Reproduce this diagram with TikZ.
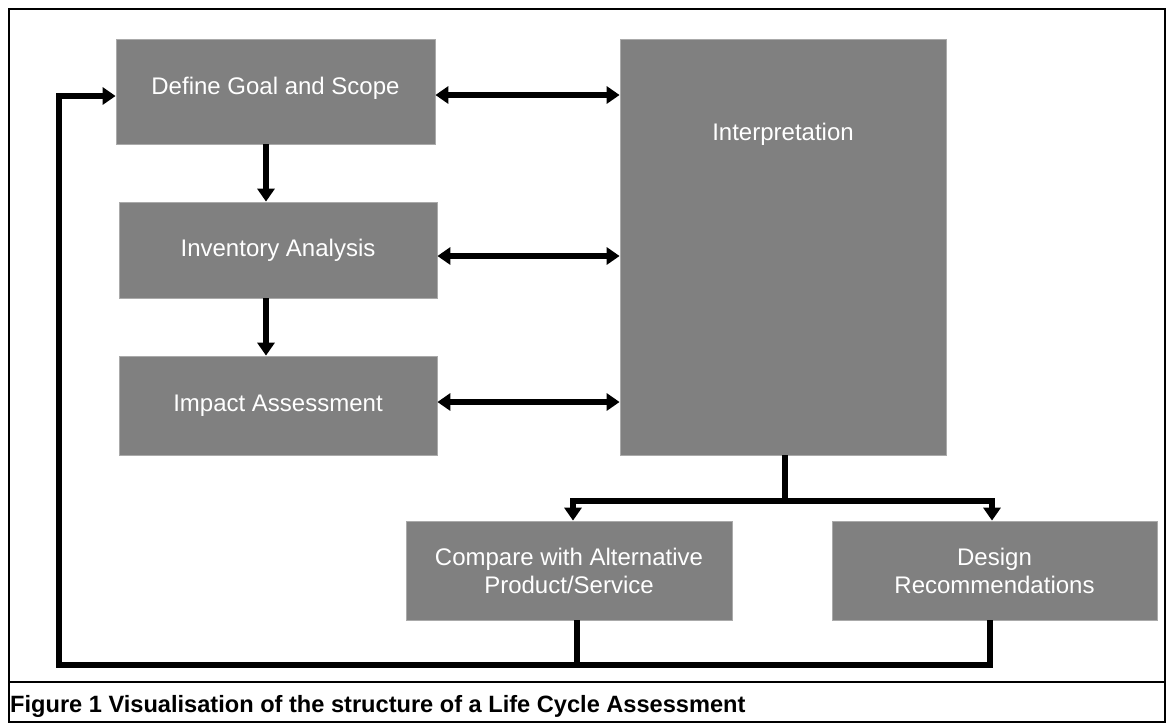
\documentclass[tikz,border=0pt]{standalone}
\usepackage{fontspec}
\setmainfont{Liberation Sans}
\usetikzlibrary{arrows.meta}
\definecolor{boxfill}{RGB}{128,128,128}
\definecolor{boxedge}{RGB}{170,170,170}
\begin{document}
\begin{tikzpicture}[x=1pt,y=-1pt,
  box/.style={draw=boxedge,fill=boxfill,line width=0.8pt,text=white,
    font=\fontsize{24}{28}\selectfont,align=center,inner sep=0pt,anchor=center},
  boxtext/.style={text=white,font=\fontsize{24}{28}\selectfont,inner sep=0pt},
  conn/.style={line width=6pt,-{Triangle[length=13pt,width=17pt]}},
  dconn/.style={line width=6pt,{Triangle[length=13pt,width=17pt]}-{Triangle[length=13pt,width=17pt]}},
  wire/.style={line width=6pt}]
\useasboundingbox (0,0) rectangle (1172,724);
\draw[line width=1.8pt] (9,9) rectangle (1165,722);
\draw[line width=2pt] (9,682) -- (1165,682);

\node[box,minimum width=319pt,minimum height=105pt,text depth=12pt] (goal) at (275.5,91.5) {Define Goal and Scope};
\node[box,minimum width=318pt,minimum height=96pt] (inv) at (278,250) {Inventory Analysis};
\node[box,minimum width=318pt,minimum height=99pt] (imp) at (278,405.5) {Impact Assessment};
\node[box,minimum width=326pt,minimum height=416pt] (interp) at (783,247) {};
\node[boxtext] (interpT) at (783,134) {Interpretation};
\node[box,minimum width=326pt,minimum height=99pt] (cmp) at (569,570.5) {Compare with Alternative\\Product/Service};
\node[box,minimum width=325pt,minimum height=99pt] (des) at (994.5,570.5) {Design\\Recommendations};

\coordinate (bus) at (0,501);
\coordinate (loopL) at (59,665);

% double arrows to interpretation
\draw[dconn] ([yshift=-3.5pt]goal.east) -- ([yshift=-3.5pt]goal.east -| interp.west);
\draw[dconn] ([yshift=-6pt]inv.east) -- ([yshift=-6pt]inv.east -| interp.west);
\draw[dconn] ([yshift=3.5pt]imp.east) -- ([yshift=3.5pt]imp.east -| interp.west);

% vertical flow
\draw[conn] ([xshift=-9.5pt]goal.south) -- ([xshift=-9.5pt]goal.south |- inv.north);
\draw[conn] ([xshift=-12pt]inv.south) -- ([xshift=-12pt]inv.south |- imp.north);

% split from interpretation
\draw[wire] ([xshift=2pt]interp.south) -- ([xshift=2pt]interp.south |- bus);
\draw[dconn] ([xshift=4pt]cmp.north) |- ([xshift=-2.5pt]des.north |- bus) -- ([xshift=-2.5pt]des.north);

% feedback loop
\draw[wire] ([xshift=8pt]cmp.south) -- ([xshift=8pt]cmp.south |- loopL);
\draw[conn] ([xshift=-4.5pt]des.south) |- (loopL) |- ([yshift=-4.5pt]goal.west);

\node[anchor=base west,font=\bfseries\fontsize{23.6}{28}\selectfont,inner sep=0pt] (cap) at (10,712) {Figure 1 Visualisation of the structure of a Life Cycle Assessment};
\end{tikzpicture}
\end{document}
